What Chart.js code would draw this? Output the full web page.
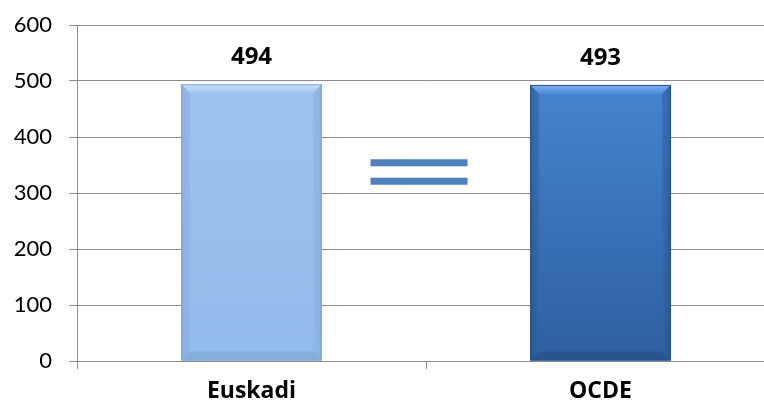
<!DOCTYPE html>
<html><head><meta charset="utf-8">
<script src="https://cdn.jsdelivr.net/npm/chart.js@4/dist/chart.umd.min.js"></script>
<style>
html,body{margin:0;padding:0;background:#fff;overflow:hidden;}
#wrap{position:relative;width:800px;height:403px;}
</style></head><body>
<div id="wrap"><canvas id="c"></canvas></div>
<script>
const categories = ["Euskadi", "OCDE"];
const scores = [494, 493];
const equalsBars = [354, 321];   // y-values of the two strokes of the "=" sign
const equalsX = 0.48;            // category position of the "=" sign
const yTicks = [0, 100, 200, 300, 400, 500, 600];

const fills = [
  {top:'#a0c4f1', bottom:'#93bbeb', light:'#cfe3f8', dark:'#7fa6d4', side:'#8bb2e2'},
  {top:'#4a8cdb', bottom:'#2e5f9f', light:'#7fb0ea', dark:'#234e86', side:'#2f66ad'}
];

const bevelPlugin = {
  id:'bevel',
  afterDatasetsDraw(chart){
    const ctx = chart.ctx;
    const meta = chart.getDatasetMeta(0);
    meta.data.forEach((bar,i)=>{
      const l = bar.x - bar.width/2, r = bar.x + bar.width/2, t = bar.y, bt = bar.base;
      const b = 9, f = fills[i];
      ctx.save();
      let g = ctx.createLinearGradient(0,t,0,t+b);
      g.addColorStop(0,f.light); g.addColorStop(1,f.top);
      ctx.fillStyle = g;
      ctx.beginPath(); ctx.moveTo(l,t); ctx.lineTo(r,t); ctx.lineTo(r-b,t+b); ctx.lineTo(l+b,t+b); ctx.closePath(); ctx.fill();
      g = ctx.createLinearGradient(l,0,l+b,0);
      g.addColorStop(0,f.dark); g.addColorStop(1,f.side);
      ctx.fillStyle = g; ctx.globalAlpha = 0.55;
      ctx.beginPath(); ctx.moveTo(l,t); ctx.lineTo(l+b,t+b); ctx.lineTo(l+b,bt-b); ctx.lineTo(l,bt); ctx.closePath(); ctx.fill();
      g = ctx.createLinearGradient(r,0,r-b,0);
      g.addColorStop(0,f.dark); g.addColorStop(1,f.side);
      ctx.fillStyle = g;
      ctx.beginPath(); ctx.moveTo(r,t); ctx.lineTo(r-b,t+b); ctx.lineTo(r-b,bt-b); ctx.lineTo(r,bt); ctx.closePath(); ctx.fill();
      ctx.globalAlpha = 0.6;
      ctx.fillStyle = f.dark;
      ctx.beginPath(); ctx.moveTo(l,bt); ctx.lineTo(l+b,bt-b); ctx.lineTo(r-b,bt-b); ctx.lineTo(r,bt); ctx.closePath(); ctx.fill();
      ctx.globalAlpha = 1;
      ctx.strokeStyle = f.dark; ctx.lineWidth = 1;
      ctx.strokeRect(l+0.5,t+0.5,bar.width-1,bt-t-1);
      ctx.restore();
      ctx.save();
      ctx.fillStyle = '#000';
      ctx.font = 'bold 24px "Open Sans", Lato, sans-serif';
      ctx.textAlign = 'center'; ctx.textBaseline = 'middle';
      ctx.fillText(String(scores[i]), bar.x, t - 27);
      ctx.restore();
    });
    const xs = chart.scales.x, ys = chart.scales.y;
    const cx = xs.getPixelForValue(equalsX);
    const half = (xs.getPixelForValue(1) - xs.getPixelForValue(0)) * 0.139;
    ctx.save();
    ctx.fillStyle = '#4f81bd';
    equalsBars.forEach(v=>{
      const py = ys.getPixelForValue(v);
      ctx.fillRect(cx-half, py-3.5, half*2, 7);
    });
    ctx.restore();
  }
};

new Chart(document.getElementById('c'), {
  type:'bar',
  data:{
    labels:categories,
    datasets:[{
      data:scores,
      backgroundColor:(c)=>{
        const chart=c.chart; const ca=chart.chartArea; if(!ca) return fills[c.dataIndex].top;
        const f=fills[c.dataIndex];
        const g=chart.ctx.createLinearGradient(0,ca.top,0,ca.bottom);
        g.addColorStop(0,f.top); g.addColorStop(1,f.bottom); return g;
      },
      borderWidth:0,
      barPercentage:0.403,
      categoryPercentage:1
    }]
  },
  options:{
    responsive:true, maintainAspectRatio:false, animation:false,
    layout:{padding:{top:25,right:25,left:0,bottom:0}},
    plugins:{legend:{display:false},tooltip:{enabled:false}},
    scales:{
      x:{
        offset:true,
        grid:{offset:true,drawOnChartArea:false,drawTicks:true,tickLength:8,color:'#8c8c8c',lineWidth:1},
        border:{color:'#8c8c8c',width:1},
        ticks:{color:'#000',padding:9,font:{family:'"Open Sans", Lato, sans-serif',size:23,weight:'bold'}},
        afterFit:s=>{s.height=42; s.paddingLeft=0; s.paddingRight=0;}
      },
      y:{
        min:0,max:600,
        afterBuildTicks:s=>{s.ticks=yTicks.map(v=>({value:v}));},
        grid:{color:'#8c8c8c',lineWidth:1,drawTicks:true,tickLength:8},
        border:{color:'#8c8c8c',width:1},
        ticks:{color:'#000',padding:17,font:{family:'Lato, "Open Sans", sans-serif',size:22}},
        afterFit:s=>{s.width=77; s.paddingTop=0; s.paddingBottom=0;}
      }
    }
  },
  plugins:[bevelPlugin]
});
</script>
</body></html>
